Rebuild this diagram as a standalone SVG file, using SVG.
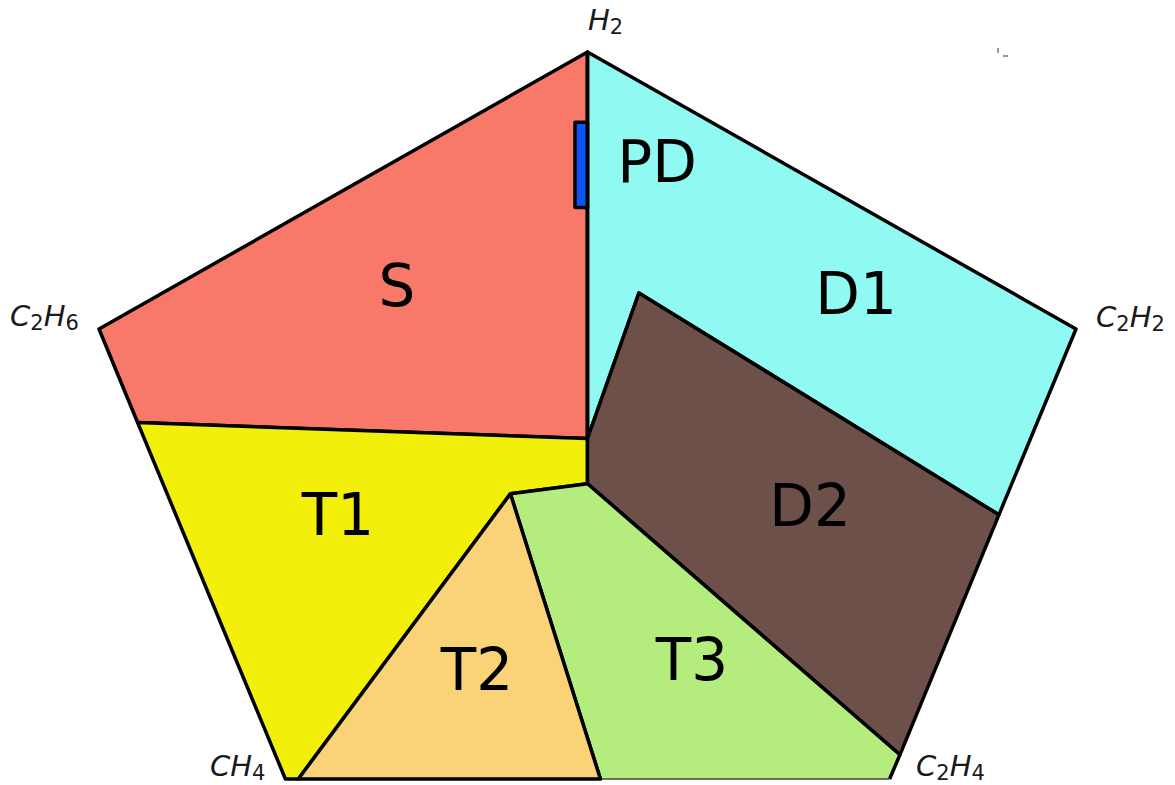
<svg xmlns="http://www.w3.org/2000/svg" width="1175" height="785" viewBox="0 0 1175 785">
<style>
.r{stroke:#000;stroke-width:3.5;stroke-linejoin:round}
.lab{font-family:"DejaVu Sans",sans-serif;font-size:58px;fill:#000;text-anchor:middle}
.v{font-family:"DejaVu Sans",sans-serif;font-size:29px;font-style:italic;fill:#1a1a1a}
.sub{font-size:21px;font-style:normal}
</style>
<rect width="1175" height="785" fill="#fff"/>
<g id="S">
<polygon class="r" fill="#F8786A" points="587.5,438.5 137.6,422.5 99,329 587.5,52"/>
<text class="lab" x="397" y="306">S</text>
</g>
<g id="T1">
<polygon class="r" fill="#F2EF0A" points="510.4,493.8 298.3,779 285.4,779 137.6,422.5 587.5,438.5 587.5,483.7"/>
<text class="lab" x="338" y="535">T1</text>
</g>
<g id="D1">
<polygon class="r" fill="#8FF9F2" points="587.5,52 1076,329 998.9,514.8 638.9,293 587.5,438.5"/>
<text class="lab" x="856" y="314">D1</text>
</g>
<g id="D2">
<polygon class="r" fill="#6E504A" points="638.9,293 998.9,514.8 899.9,754.8 587.5,483.7 587.5,438.5"/>
<text class="lab" x="810" y="526">D2</text>
</g>
<g id="T3">
<polygon fill="#B4EC7D" points="587.5,483.7 899.9,754.8 889.6,779 600.4,779 510.4,493.8"/>
<polyline class="r" fill="none" points="600.4,779 510.4,493.8 587.5,483.7 899.9,754.8 889.6,779"/>
<line x1="600.4" y1="779" x2="889.6" y2="779" stroke="#444" stroke-width="1.5"/>
<text class="lab" x="692" y="680">T3</text>
</g>
<g id="T2">
<polygon class="r" fill="#FAD277" points="510.4,493.8 600.4,779 298.3,779"/>
<text class="lab" x="477" y="690">T2</text>
</g>
<g id="PD">
<rect class="r" fill="#0A55F5" x="575" y="122.3" width="12.5" height="85.3" stroke-width="3"/>
<line x1="587.5" y1="52" x2="587.5" y2="438.5" stroke="#000" stroke-width="3.5"/>
<text class="lab" x="657" y="182">PD</text>
</g>
<g id="vertex-labels">
<text class="v" x="588" y="30">H<tspan class="sub" dy="4">2</tspan></text>
<text class="v" x="10" y="326">C<tspan class="sub" dy="4">2</tspan><tspan dy="-4">H</tspan><tspan class="sub" dy="4">6</tspan></text>
<text class="v" x="1096" y="327">C<tspan class="sub" dy="4">2</tspan><tspan dy="-4">H</tspan><tspan class="sub" dy="4">2</tspan></text>
<text class="v" x="210" y="776">CH<tspan class="sub" dy="4">4</tspan></text>
<text class="v" x="916" y="776">C<tspan class="sub" dy="4">2</tspan><tspan dy="-4">H</tspan><tspan class="sub" dy="4">4</tspan></text>
</g>
<g id="marks" fill="#999">
<rect x="997" y="48" width="2" height="5"/>
<rect x="1003" y="55" width="5" height="2"/>
</g>
</svg>
